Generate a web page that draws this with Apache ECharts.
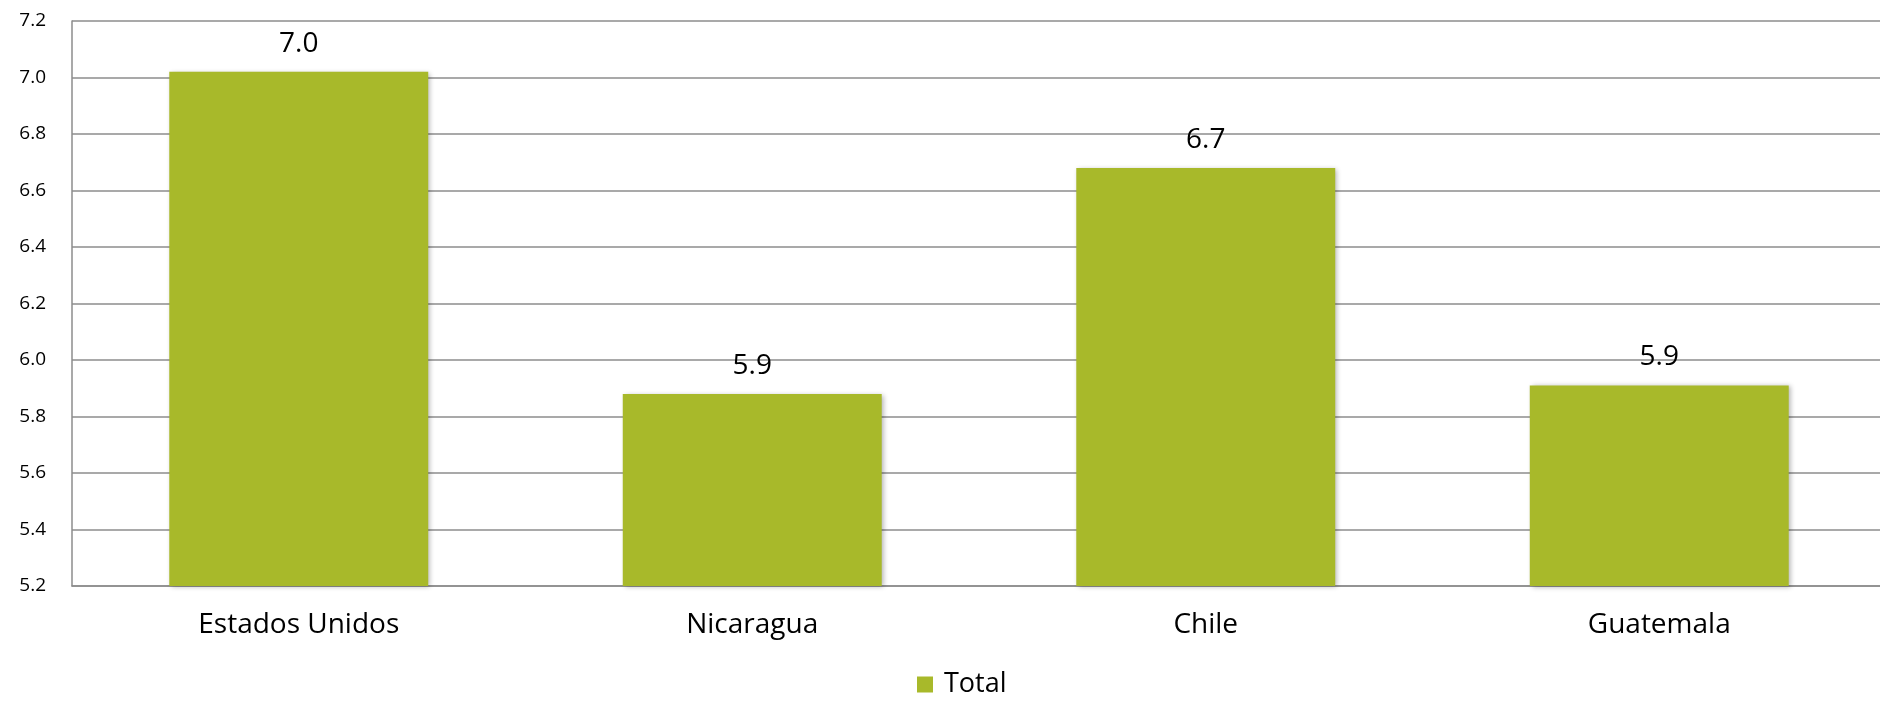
<!DOCTYPE html>
<html>
<head>
<meta charset="utf-8">
<script src="https://cdn.jsdelivr.net/npm/echarts@6/dist/echarts.min.js"></script>
<style>html,body{margin:0;padding:0;background:#fff;overflow:hidden}#c{width:1886px;height:701px}</style>
</head>
<body>
<div id="c"></div>
<script>
const categories = ['Estados Unidos', 'Nicaragua', 'Chile', 'Guatemala'];
const totalValues = [7.02, 5.88, 6.68, 5.91];
const seriesName = 'Total';
const yMin = 5.2, yMax = 7.2, yStep = 0.2;

const chart = echarts.init(document.getElementById('c'));
const font = '"Open Sans", "Noto Sans", sans-serif';
chart.setOption({
  animation: false,
  backgroundColor: '#fff',
  grid: { left: 72, right: 0, top: 21, bottom: 115 },
  legend: {
    bottom: -2, left: 912,
    itemWidth: 16, itemHeight: 16, itemGap: 6,
    icon: 'rect',
    textStyle: { fontFamily: font, fontSize: 27, color: '#000', padding: [0,0,0,6] },
    data: [seriesName]
  },
  xAxis: {
    type: 'category', data: categories,
    axisLine: { lineStyle: { color: '#8c8c8c', width: 1.5 } },
    axisTick: { show: false },
    axisLabel: { fontFamily: font, fontSize: 28, color: '#000', margin: 25 }
  },
  yAxis: {
    type: 'value', min: yMin, max: yMax, interval: yStep,
    axisLine: { show: true, lineStyle: { color: '#8c8c8c', width: 1.5 } },
    axisTick: { show: false },
    splitLine: { lineStyle: { color: '#8c8c8c', width: 1.5 } },
    axisLabel: { fontFamily: font, fontSize: 19, color: '#000', margin: 26,
      formatter: v => v.toFixed(1) }
  },
  series: [{
    name: seriesName, type: 'bar', data: totalValues,
    barWidth: '57.1%',
    itemStyle: { color: '#a8b92a', shadowBlur: 5, shadowColor: 'rgba(0,0,0,0.3)', shadowOffsetX: 2, shadowOffsetY: 1 },
    label: { show: true, position: 'top', distance: 14, fontFamily: font, fontSize: 28, color: '#000',
      formatter: p => p.value.toFixed(1) }
  }]
});
</script>
</body>
</html>
